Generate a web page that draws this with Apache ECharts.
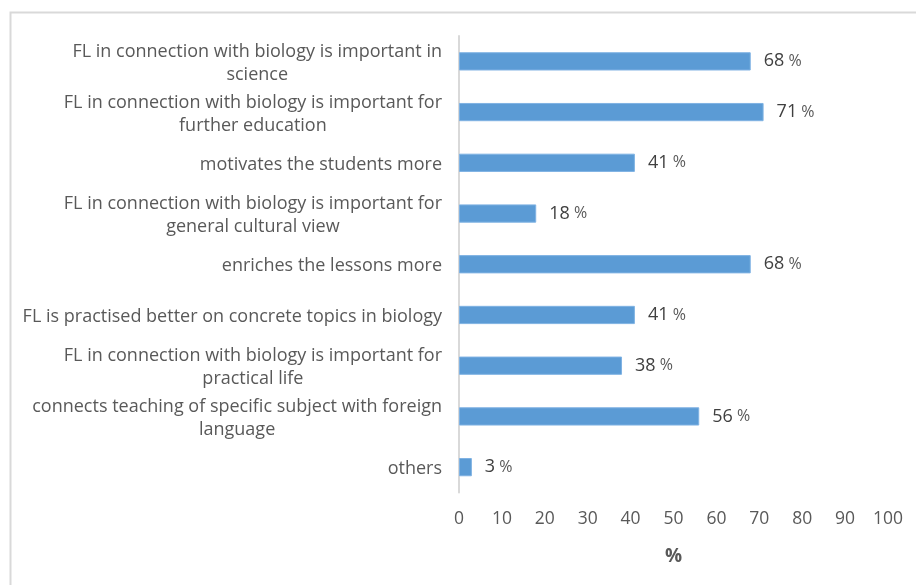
<!DOCTYPE html>
<html>
<head>
<meta charset="utf-8">
<script src="https://cdn.jsdelivr.net/npm/echarts@6/dist/echarts.min.js"></script>
<style>html,body{margin:0;padding:0;background:#fff;}#c{width:916px;height:585px;}</style>
</head>
<body>
<div id="c"></div>
<script>
const categories = [
  "FL in connection with biology is important in\nscience",
  "FL in connection with biology is important for\nfurther education",
  "motivates the students more",
  "FL in connection with biology is important for\ngeneral cultural view",
  "enriches the lessons more",
  "FL is practised better on concrete topics in biology",
  "FL in connection with biology is important for\npractical life",
  "connects teaching of specific subject with foreign\nlanguage",
  "others"
];
const values = [68, 71, 41, 18, 68, 41, 38, 56, 3];
const xTicks = [0, 10, 20, 30, 40, 50, 60, 70, 80, 90, 100];

const FONT = 'Open Sans';
const chart = echarts.init(document.getElementById('c'), null, {renderer: 'canvas'});
chart.setOption({
  animation: false,
  backgroundColor: '#fff',
  graphic: [{
    type: 'rect', left: 8, top: 10, z: -1,
    shape: {x: 0, y: 0, width: 930, height: 600},
    style: {fill: 'none', stroke: '#d9d9d9', lineWidth: 2}
  }],
  grid: {left: 459, right: 28, top: 36, bottom: 92.5, containLabel: false},
  xAxis: {
    type: 'value', min: xTicks[0], max: xTicks[xTicks.length - 1], interval: 10,
    splitLine: {show: false}, axisLine: {show: false}, axisTick: {show: false},
    axisLabel: {fontFamily: FONT, fontSize: 17.5, color: '#595959', margin: 18},
    name: '%', nameLocation: 'middle', nameGap: 55,
    nameTextStyle: {fontFamily: FONT, fontSize: 19, fontWeight: 'bold', color: '#595959'}
  },
  yAxis: {
    type: 'category', data: categories, inverse: true,
    axisLine: {show: true, lineStyle: {color: '#d9d9d9', width: 2}},
    axisTick: {show: false},
    axisLabel: {
      fontFamily: FONT, fontSize: 18, color: '#595959', margin: 17, lineHeight: 23,
      padding: [4, 0, 0, 0],
      formatter: v => v.split('\n').map(l => '{c|' + l + '}').join('\n'),
      rich: {c: {align: 'center', fontFamily: FONT, fontSize: 18, color: '#595959', lineHeight: 23}}
    }
  },
  series: [{
    type: 'bar', data: values, barCategoryGap: '64%',
    itemStyle: {color: '#5b9bd5', borderColor: '#7fb2e3', borderWidth: 1},
    label: {
      show: true, position: 'right', distance: 13,
      formatter: p => '{n|' + p.value + '}{p| %}',
      rich: {
        n: {fontFamily: FONT, fontSize: 18, color: '#404040'},
        p: {fontFamily: FONT, fontSize: 16, color: '#595959'}
      }
    }
  }]
});
</script>
</body>
</html>
